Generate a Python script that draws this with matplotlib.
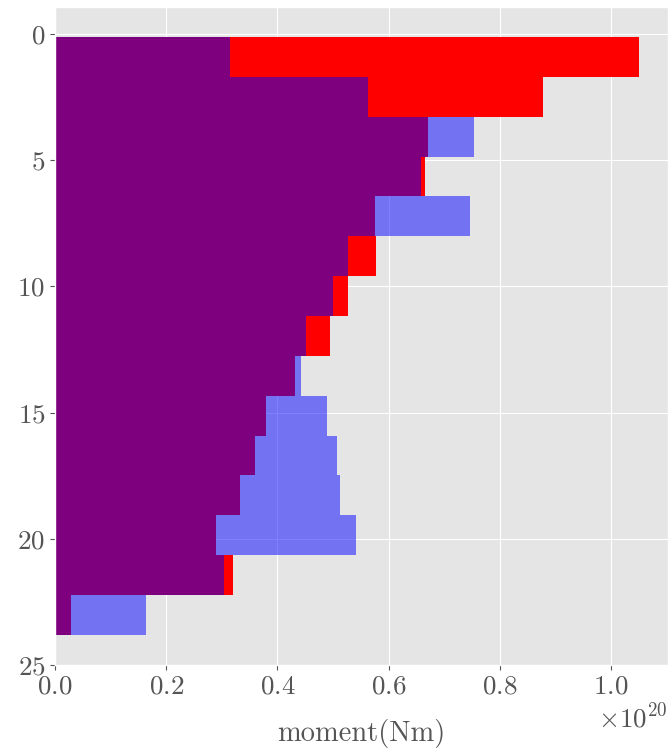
import numpy as np
import matplotlib
matplotlib.use("Agg")
import matplotlib.pyplot as plt

plt.style.use("ggplot")
plt.rcParams["font.family"] = "serif"
plt.rcParams["font.serif"] = ["cmr10"]
plt.rcParams["mathtext.fontset"] = "cm"
plt.rcParams["axes.formatter.use_mathtext"] = True
plt.rcParams["axes.unicode_minus"] = False

# depth bin centers (km) and bin height
depth = [0.90, 2.48, 4.06, 5.64, 7.22, 8.80, 10.38, 11.96,
         13.54, 15.12, 16.70, 18.28, 19.86, 21.44, 23.02]
bin_height = 1.58

# moment per depth bin (x 1e20 Nm)
moment_red = [1.050, 0.877, 0.671, 0.666, 0.576, 0.577, 0.527, 0.495,
              0.431, 0.380, 0.359, 0.3335, 0.289, 0.320, 0.028]
moment_blue = [0.314, 0.563, 0.753, 0.659, 0.747, 0.527, 0.500, 0.451,
               0.443, 0.489, 0.507, 0.512, 0.541, 0.304, 0.163]

red = np.array(moment_red) * 1e20
blue = np.array(moment_blue) * 1e20

fig = plt.figure(figsize=(6.71, 7.5), dpi=100)
ax = fig.add_axes([0.082, 0.1133, 0.9135, 0.8774])

ax.barh(depth, red, height=bin_height, color="red", linewidth=0)
ax.barh(depth, blue, height=bin_height, color="blue", alpha=0.5, linewidth=0)

ax.invert_yaxis()
ax.set_yticks([0, 5, 10, 15, 20, 25])
ax.set_xticks([0.0, 0.2e20, 0.4e20, 0.6e20, 0.8e20, 1.0e20])
ax.tick_params(labelsize=19.5, colors="#555555", labelcolor="#555555")
ax.xaxis.get_offset_text().set_fontsize(19.5)
ax.xaxis.get_offset_text().set_color("#555555")
ax.set_xlabel("moment(Nm)", fontsize=20.5, color="#555555", labelpad=15)

fig.savefig("out.png", dpi=100)
